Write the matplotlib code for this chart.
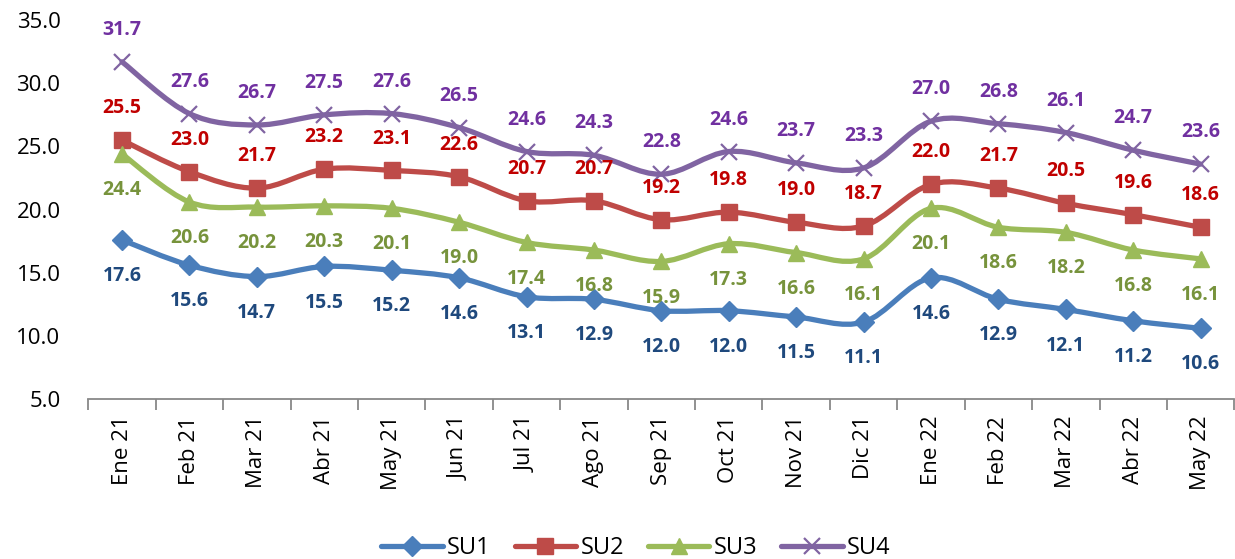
#!/usr/bin/env python3

import numpy as np
import matplotlib.pyplot as plt
from matplotlib.path import Path
from matplotlib.patches import PathPatch
from matplotlib.lines import Line2D

plt.rcParams['font.family'] = ['Open Sans', 'DejaVu Sans']

months = ["Ene 21", "Feb 21", "Mar 21", "Abr 21", "May 21", "Jun 21",
          "Jul 21", "Ago 21", "Sep 21", "Oct 21", "Nov 21", "Dic 21",
          "Ene 22", "Feb 22", "Mar 22", "Abr 22", "May 22"]

su1 = [17.6, 15.6, 14.7, 15.5, 15.2, 14.6, 13.1, 12.9, 12.0, 12.0, 11.5,
       11.1, 14.6, 12.9, 12.1, 11.2, 10.6]
su2 = [25.5, 23.0, 21.7, 23.2, 23.1, 22.6, 20.7, 20.7, 19.2, 19.8, 19.0,
       18.7, 22.0, 21.7, 20.5, 19.6, 18.6]
su3 = [24.4, 20.6, 20.2, 20.3, 20.1, 19.0, 17.4, 16.8, 15.9, 17.3, 16.6,
       16.1, 20.1, 18.6, 18.2, 16.8, 16.1]
su4 = [31.7, 27.6, 26.7, 27.5, 27.6, 26.5, 24.6, 24.3, 22.8, 24.6, 23.7,
       23.3, 27.0, 26.8, 26.1, 24.7, 23.6]

# name, values, line colour, label colour, marker, label above?
series = [
    ("SU1", su1, "#4A7EBB", "#1F497D", "D", False),
    ("SU2", su2, "#BE4B48", "#C00000", "s", True),
    ("SU3", su3, "#9BBB59", "#77933C", "^", False),
    ("SU4", su4, "#8064A2", "#7030A0", "x", True),
]


def smooth_path(x, y, t=1 / 6):
    """Bezier path through the points, like a spreadsheet 'smoothed line'."""
    pts = np.column_stack([x, y]).astype(float)
    verts = [pts[0]]
    codes = [Path.MOVETO]
    n = len(pts)
    for i in range(n - 1):
        p0 = pts[max(i - 1, 0)]
        p1 = pts[i]
        p2 = pts[i + 1]
        p3 = pts[min(i + 2, n - 1)]
        c1 = p1 + (p2 - p0) * t
        c2 = p2 - (p3 - p1) * t
        verts += [c1, c2, p2]
        codes += [Path.CURVE4] * 3
    return Path(verts, codes)


fig = plt.figure(figsize=(12.35, 5.59), dpi=100)
ax = fig.add_axes([0.0715, 0.286, 0.928, 0.678])

x = np.arange(len(months))
handles = []
for name, vals, col, lcol, mk, above in series:
    ax.add_patch(PathPatch(smooth_path(x, vals), facecolor='none',
                           edgecolor=col, lw=3.8, capstyle='round',
                           joinstyle='round', zorder=2))
    if mk == "x":
        ax.plot(x, vals, ls='none', marker=mk, ms=11, mew=1.6, color=col,
                zorder=3)
    else:
        ms = 10 if mk == "D" else 11
        ax.plot(x, vals, ls='none', marker=mk, ms=ms, color=col,
                mec=col, zorder=3)
    for xi, v in zip(x, vals):
        ax.annotate(f"{v:.1f}", (xi, v), xytext=(0, 23 if above else -26),
                    textcoords='offset points', ha='center', va='center',
                    fontsize=14, fontweight='bold', color=lcol, zorder=4)
    handles.append(Line2D([0], [0], color=col, lw=3.8,
                          solid_capstyle='round', marker=mk,
                          ms=11 if mk != "D" else 10,
                          mew=1.6 if mk == "x" else 1, mec=col))

ax.set_xlim(-0.5, len(months) - 0.5)
ax.set_ylim(5, 35)
ax.set_yticks(np.arange(5, 36, 5))
ax.set_yticklabels([f"{v:.1f}" for v in np.arange(5, 36, 5)])
ax.set_xticks(x)
ax.set_xticklabels(months, rotation=90)
ax.set_xticks(np.arange(len(months) + 1) - 0.5, minor=True)
ax.tick_params(axis='x', which='major', length=0, pad=12, labelsize=16)
ax.tick_params(axis='x', which='minor', length=8, width=1.3,
               color='#888888')
ax.tick_params(axis='y', length=0, pad=20, labelsize=16)

for s in ['top', 'right', 'left']:
    ax.spines[s].set_visible(False)
ax.spines['bottom'].set_color('#888888')
ax.spines['bottom'].set_linewidth(1.3)

fig.legend(handles, [s[0] for s in series], loc='lower center',
           bbox_to_anchor=(0.515, -0.04), ncol=4, frameon=False,
           fontsize=17, handlelength=2.6, columnspacing=1.0,
           handletextpad=0.2)

fig.savefig("out.png", dpi=100)
